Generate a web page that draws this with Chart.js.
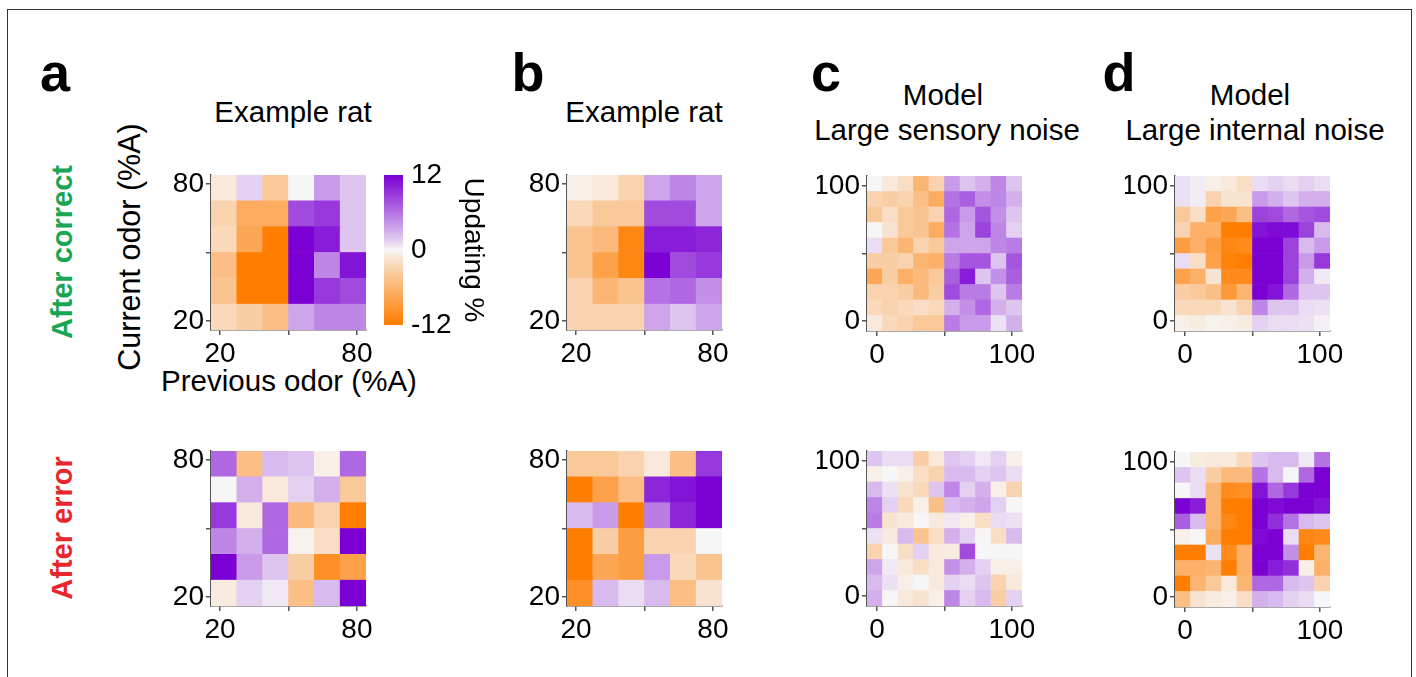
<!DOCTYPE html>
<html>
<head>
<meta charset="utf-8">
<script src="https://cdn.jsdelivr.net/npm/chart.js@4.4.0/dist/chart.umd.min.js"></script>
<style>
  body { margin: 0; background: #fff; width: 1416px; height: 677px; overflow: hidden; position: relative;
         font-family: "Liberation Sans", Arial, sans-serif; }
  .frame { position: absolute; left: 7px; top: 9px; width: 1405px; height: 700px; border: 1.5px solid #333;
           border-bottom: none; box-sizing: border-box; }
  .t { position: absolute; white-space: nowrap; transform: translate(-50%, -50%); color: #000; font-size: 29.5px; line-height: 1; }
  .rot { transform: translate(-50%, -50%) rotate(-90deg); }
  .big { font-weight: bold; font-size: 54px; }
  .side { font-weight: bold; font-size: 29px; }
  canvas { position: absolute; }
</style>
</head>
<body>
<div class="frame"></div>

<div class="t big" style="left:55px; top:72px;">a</div>
<div class="t big" style="left:528px; top:72px;">b</div>
<div class="t big" style="left:826px; top:72px;">c</div>
<div class="t big" style="left:1119px; top:72px;">d</div>

<div class="t" style="left:293px; top:112px;">Example rat</div>
<div class="t" style="left:644px; top:112px;">Example rat</div>
<div class="t" style="left:943px; top:95px;">Model</div>
<div class="t" style="left:947px; top:130px;">Large sensory noise</div>
<div class="t" style="left:1250px; top:95px;">Model</div>
<div class="t" style="left:1255px; top:130px;">Large internal noise</div>

<div class="t rot side" style="left:62px; top:252px; color:#1aa553;">After correct</div>
<div class="t rot side" style="left:62px; top:528px; color:#e8262d;">After error</div>

<div class="t rot" style="left:129px; top:247px; font-size:30.5px;">Current odor (%A)</div>
<div class="t" style="left:289px; top:381px;">Previous odor (%A)</div>

<script>
// tick labels
const odorTicks = [20, 50, 80];
const modelTicks = [0, 50, 100];
const barTicks = [-12, 0, 12];

// updating % per cell, rows listed from top (high current odor) to bottom
const aCorrect = [
  [-1, 1.5, -4, 0, 4, 2],
  [-3, -7, -7, 8, 9, 2],
  [-2.5, -7.5, -12, 12, 10.5, 2],
  [-5, -12, -12, 12, 5, 11],
  [-4.5, -12, -12, 12, 9, 8],
  [-2.5, -3.5, -5, 3.5, 5, 5]
];
const bCorrect = [
  [-0.5, -1, -3, 3.5, 5, 3.5],
  [-2.5, -4, -4, 8, 8, 3.5],
  [-4.5, -5.5, -11, 10.5, 10.5, 10],
  [-4.5, -8, -11, 12, 8, 9],
  [-3, -6, -4.5, 6, 6.5, 4.5],
  [-3, -3, -3, 3.5, 2, 3.5]
];
const cCorrect = [
  [0, -1, -2, -6, -3, 4, 2, 3, 5, 2],
  [-3, -3.5, -3, -5, -7, 6, 7, 4.5, 5, 3],
  [-4, -2, -4, -4.5, -3, 6.5, 4, 7.5, 4.5, 2],
  [0, -1.5, -4, -4.5, -7, 6, 3.5, 8.5, 5, 1.5],
  [1, -4, -6, -3, -4, 3.5, 3.5, 3.5, 5, 5.5],
  [-3.5, -3.5, -3, -6, -6.5, 5.5, 7.5, 7.5, 2, 7.5],
  [-7.5, -3.5, -6.5, -5.5, -4, 7, 10.5, 2, 4.5, 7],
  [-3, -3, -3.5, -5.5, -3.5, 8, 5.5, 5.5, 2, 5.5],
  [-2.5, -3, -2.5, -2, -2.5, 3, 4.5, 6.5, 3, 2],
  [-1, -2.5, -3, -4, -4, 5.5, 4, 4, 0.8, 3]
];
const dCorrect = [
  [0.8, 0.3, -0.5, -1, -2, 1, 1.5, 1, 1.5, 1],
  [0.8, 0.3, -3, -1.5, -1.5, 4, 3, 2, 3, 3],
  [-4, -2, -8, -7.5, -5, 8.5, 8, 6.5, 7.5, 8],
  [-3, -6.5, -6.5, -12, -12, 11, 11.5, 11.5, 8.5, 2.5],
  [-8.5, -6.5, -8.5, -11, -10.5, 12, 12, 8.5, 2.5, 4],
  [1, -2, -8, -11.5, -12, 12, 12, 8.5, 4, 9],
  [-8, -6.5, -1.5, -10.5, -10.5, 12, 12, 8.5, 3, 0.5],
  [-3.5, -4, -5, -9, -6, 12, 11, 6.5, 2, 2],
  [-2.5, -2.5, -2.5, -1.5, -3, 5, 2, 2, 1, 0.8],
  [-0.5, -0.8, -0.3, -0.5, -0.8, 1.5, 1, 1, 0.8, 0.2]
];
const aError = [
  [6.5, -5, 2.5, 2, -0.5, 6.5],
  [0, 3, -1, 1.5, 3, -4],
  [9, -1, 6.5, -5.5, -3, -12],
  [5, 3, 6.5, -0.3, -2, 12],
  [12, 4, 2, -3.5, -10, -8],
  [-0.8, 1.5, 0.5, -5, 2.5, 12]
];
const bError = [
  [-4, -4, -3, -1, -5, 9],
  [-12, -8, -5, 10, 11, 12],
  [2.5, 4, -12, 5.5, 10, 12],
  [-12, -3.5, -8.5, -3, -3, 0],
  [-12, -7.5, -8.5, 4, -2.5, -4.5],
  [-10, 2.5, 1, 2.5, -5, -1.5]
];
const cError = [
  [2, 1, 1, -3.5, -1, 2, 1.5, 0.5, 1.5, -0.5],
  [-0.5, 0, -0.5, -2, -3, 2.5, 2.5, 1.5, 2, 1],
  [2.5, 0.8, -1.5, -2.5, 2, 5, 1.5, 3, -0.5, -3],
  [5, 1.5, -2.5, -0.5, -5, 2.5, 3, 3.5, 1.5, 0],
  [5.5, -1.5, -1, 0, -1, 0.5, -0.5, -2, 1, 0.8],
  [0.8, -1, 2.5, -4.5, -2, 3, 1.5, 0, -2, 2.5],
  [-3, 0, -2, 1.5, -1, -0.8, 8, 0, 0, 0],
  [3.5, 0.5, -1, -2, -1, 4.5, 3, 1.5, -0.5, -0.5],
  [2.5, 0.8, -0.5, 0, -1, 1.5, 1, 2, -3, -1],
  [3, 0, -1, -1.5, -0.5, 5, 1.5, 2.5, -3.5, 1.5]
];
const dError = [
  [0, -0.8, -1, -1, -2.5, 2, 2.5, 2.5, 0.5, 6],
  [2, 1, -3.5, -5.5, -5.5, 6, 2.5, 0, 6.5, 12],
  [0, 1, -6, -10.5, -10, 11, 6.5, 9, 12, 12],
  [12, 10.5, -6, -12, -12, 12, 11.5, 12, 12, 11],
  [7, 2.5, -6, -11, -12, 12, 9.5, 6, 2.5, 2],
  [-0.5, 0, -7, -12, -12, 11.5, 12, 1, -11, -10.5],
  [-12, -12, 0.8, -10.5, -6.5, 12, 12, 4.5, -12, -6],
  [-6.5, -6.5, -6, -12, -6.5, 12, 10.5, 9.5, -0.5, -6.5],
  [-12, -6, -4, -1, -6, 6.5, 6.5, 2.5, 2, -3],
  [-5, -1.5, -0.8, -0.5, -2, 3, 2.5, 1.5, 1, 0]
];

const FONT = '"Liberation Sans", Arial, sans-serif';
const PURPLE = [122, 0, 212];
const ORANGE = [255, 125, 0];
const MID = [247, 246, 246];
const LIMIT = 12;

function colorOf(v) {
  const t = Math.pow(Math.min(Math.abs(v) / LIMIT, 1), 0.9);
  const end = v >= 0 ? PURPLE : ORANGE;
  const c = MID.map((m, i) => Math.round(m + (end[i] - m) * t));
  return 'rgb(' + c.join(',') + ')';
}

const PLOT = 155;

function heatmap(values, lo, hi, ticks, left, top) {
  const n = values.length;
  const step = (hi - lo) / n;
  const cells = [];
  const colors = [];
  values.forEach((row, r) => {
    const y0 = hi - (r + 1) * step;
    row.forEach((v, c) => {
      cells.push({ x: lo + (c + 0.5) * step, y: [y0, y0 + step] });
      colors.push(colorOf(v));
    });
  });

  const canvas = document.createElement('canvas');
  canvas.width = PLOT + 82;
  canvas.height = PLOT + 62;
  canvas.style.left = (left - 70) + 'px';
  canvas.style.top = (top - 12) + 'px';
  document.body.appendChild(canvas);

  const axis = (pos) => ({
    type: 'linear',
    position: pos,
    min: lo,
    max: hi,
    offset: false,
    afterBuildTicks: s => { s.ticks = ticks.map(v => ({ value: v })); },
    afterFit: s => {
      if (pos === 'left') s.width = 50; else s.height = 40;
      s.paddingLeft = 0; s.paddingRight = 0; s.paddingTop = 0; s.paddingBottom = 0;
    },
    ticks: {
      color: '#000',
      font: { size: 28, family: FONT },
      padding: 2,
      maxRotation: 0,
      autoSkip: false,
      callback: v => (v === ticks[1] ? '' : v)
    },
    grid: { display: true, offset: false, drawOnChartArea: false, drawTicks: true, tickLength: 5, color: '#555', lineWidth: 1.5 },
    border: { display: true, color: '#555', width: 1.5 }
  });

  new Chart(canvas, {
    type: 'bar',
    data: {
      datasets: [{
        data: cells,
        backgroundColor: colors,
        borderWidth: 0,
        barPercentage: 1,
        categoryPercentage: 1
      }]
    },
    options: {
      responsive: false,
      animation: false,
      layout: { padding: { left: 20, top: 12, right: 12, bottom: 10 } },
      plugins: { legend: { display: false }, tooltip: { enabled: false } },
      scales: { x: axis('bottom'), y: axis('left') }
    }
  });
}

heatmap(aCorrect, 16, 84, odorTicks, 211, 175);
heatmap(bCorrect, 16, 84, odorTicks, 567, 175);
heatmap(cCorrect, -7.5, 107.5, modelTicks, 867, 176);
heatmap(dCorrect, -7.5, 107.5, modelTicks, 1175, 176);
heatmap(aError, 16, 84, odorTicks, 211, 451);
heatmap(bError, 16, 84, odorTicks, 567, 451);
heatmap(cError, -7.5, 107.5, modelTicks, 867, 451);
heatmap(dError, -7.5, 107.5, modelTicks, 1175, 452);

// colour bar
const cbCanvas = document.createElement('canvas');
cbCanvas.width = 114;
cbCanvas.height = 180;
cbCanvas.style.left = '380px';
cbCanvas.style.top = '160px';
document.body.appendChild(cbCanvas);

new Chart(cbCanvas, {
  type: 'bar',
  data: {
    labels: ['Updating %'],
    datasets: [{
      data: [[barTicks[0], barTicks[2]]],
      borderWidth: 0,
      barPercentage: 1,
      categoryPercentage: 1,
      backgroundColor: ctx => {
        const area = ctx.chart.chartArea;
        if (!area) return '#fff';
        const g = ctx.chart.ctx.createLinearGradient(0, area.bottom, 0, area.top);
        for (let i = 0; i <= 24; i++) {
          g.addColorStop(i / 24, colorOf(-LIMIT + i));
        }
        return g;
      }
    }]
  },
  options: {
    responsive: false,
    animation: false,
    layout: { padding: { left: 4, top: 15, right: 0, bottom: 15 } },
    plugins: { legend: { display: false }, tooltip: { enabled: false } },
    scales: {
      x: { display: false, offset: true },
      y: {
        position: 'right',
        min: barTicks[0],
        max: barTicks[2],
        afterBuildTicks: s => { s.ticks = barTicks.map(v => ({ value: v })); },
        afterFit: s => { s.width = 91; s.paddingTop = 0; s.paddingBottom = 0; },
        grid: { display: false, drawTicks: false },
        border: { display: false },
        ticks: { color: '#000', font: { size: 28, family: FONT }, padding: 8 },
        title: { display: true, text: 'Updating %', color: '#000', font: { size: 28, family: FONT }, padding: 4 }
      }
    }
  }
});
</script>
</body>
</html>
